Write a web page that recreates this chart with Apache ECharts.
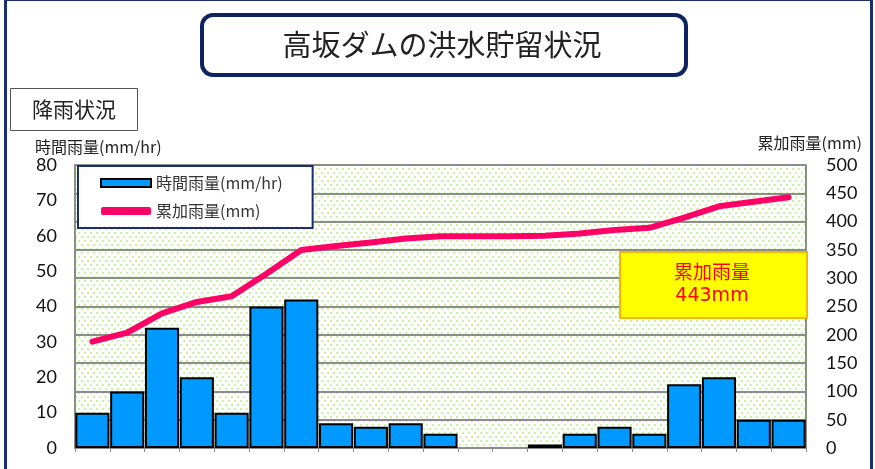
<!DOCTYPE html>
<html>
<head>
<meta charset="utf-8">
<script src="https://cdn.jsdelivr.net/npm/echarts@6/dist/echarts.min.js"></script>
<style>
html,body{margin:0;padding:0;background:#fff;}
#chart{width:875px;height:469px;}
</style>
</head>
<body>
<div id="chart"></div>
<script>
var categories = ['1','2','3','4','5','6','7','8','9','10','11','12','13','14','15','16','17','18','19','20','21'];
var hourlyRain = [10, 16, 34, 20, 10, 40, 42, 7, 6, 7, 4, 0, 0, 1, 4, 6, 4, 18, 20, 8, 8];
var cumulativeRain = [188, 204, 238, 258, 268, 308, 350, 357, 363, 370, 374, 374, 374, 375, 379, 385, 389, 407, 427, 435, 443];
var leftTicks = {min: 0, max: 80, interval: 10};
var rightTicks = {min: 0, max: 500, interval: 50};
var titleText = '高坂ダムの洪水貯留状況';
var sectionText = '降雨状況';
var seriesNames = ['時間雨量(mm/hr)', '累加雨量(mm)'];
var axisNames = ['時間雨量(mm/hr)', '累加雨量(mm)'];

var JP = '"Noto Sans CJK JP", "Noto Sans", sans-serif';
var NUM = 'Lato, "Noto Sans", sans-serif';

// dotted background pattern
var pc = document.createElement('canvas');
pc.width = 6; pc.height = 8;
var pctx = pc.getContext('2d');
pctx.fillStyle = '#ffffff';
pctx.fillRect(0, 0, 6, 8);
pctx.fillStyle = '#c9f59c';
pctx.fillRect(0, 0, 2, 2);
pctx.fillRect(3, 4, 2, 2);

var chart = echarts.init(document.getElementById('chart'), null, {renderer: 'canvas'});
var lastVal = cumulativeRain[cumulativeRain.length - 1];

var barData = hourlyRain.map(function (v) {
  return v === 0 ? {value: v, itemStyle: {borderWidth: 0}} : v;
});

var option = {
  backgroundColor: '#ffffff',
  animation: false,
  grid: {
    left: 75, right: 69, top: 165, bottom: 21,
    show: true,
    backgroundColor: {image: pc, repeat: 'repeat'},
    borderWidth: 0
  },
  legend: {
    orient: 'vertical',
    left: 78, top: 166,
    padding: [9, 30, 9, 22],
    itemGap: 12,
    itemWidth: 50, itemHeight: 8,
    backgroundColor: '#ffffff',
    borderColor: '#1a2f6b',
    borderWidth: 2,
    borderRadius: 0,
    textStyle: {fontFamily: JP, fontSize: 16, color: '#333'},
    data: [
      {name: seriesNames[0], icon: 'rect'},
      {name: seriesNames[1], icon: 'roundRect'}
    ]
  },
  xAxis: {
    type: 'category',
    data: categories,
    boundaryGap: true,
    axisLine: {show: true, lineStyle: {color: '#8c8c8c', width: 2}},
    axisTick: {show: true, length: 4, lineStyle: {color: '#8c8c8c'}},
    axisLabel: {show: false},
    splitLine: {show: false}
  },
  yAxis: [
    {
      type: 'value',
      min: leftTicks.min, max: leftTicks.max, interval: leftTicks.interval,
      axisLine: {show: true, lineStyle: {color: '#8c8c8c', width: 2}},
      axisTick: {show: false},
      splitLine: {show: false},
      axisLabel: {margin: 18, fontFamily: NUM, fontSize: 18, color: '#111'}
    },
    {
      type: 'value',
      min: rightTicks.min, max: rightTicks.max, interval: rightTicks.interval,
      position: 'right',
      axisLine: {show: true, lineStyle: {color: '#8c8c8c', width: 2}},
      axisTick: {show: false},
      splitLine: {show: true, lineStyle: {color: '#8c8c8c', width: 2}},
      axisLabel: {margin: 20, fontFamily: NUM, fontSize: 18, color: '#111'}
    }
  ],
  series: [
    {
      name: seriesNames[0],
      type: 'bar',
      yAxisIndex: 0,
      data: barData,
      barCategoryGap: '2%',
      itemStyle: {color: '#0099ff', borderColor: '#000', borderWidth: 2}
    },
    {
      name: seriesNames[1],
      type: 'line',
      yAxisIndex: 1,
      data: cumulativeRain,
      symbol: 'none',
      lineStyle: {color: '#ff0066', width: 6, cap: 'round', join: 'round'},
      itemStyle: {color: '#ff0066'},
      z: 5
    }
  ],
  graphic: [
    {type: 'rect', left: 3, top: -3, shape: {width: 866, height: 485}, style: {fill: 'none', stroke: '#1a2f6b', lineWidth: 3}, silent: true},
    {type: 'rect', left: 200, top: 13, shape: {width: 484, height: 60, r: 11}, style: {fill: '#fff', stroke: '#0d2260', lineWidth: 4}},
    {type: 'text', x: 442, y: 45, style: {text: titleText, font: '29px ' + JP, fill: '#222', align: 'center', verticalAlign: 'middle'}},
    {type: 'rect', left: 10, top: 88, shape: {width: 127, height: 42}, style: {fill: '#fff', stroke: '#555', lineWidth: 1}},
    {type: 'text', x: 74, y: 109, style: {text: sectionText, font: '21px ' + JP, fill: '#222', align: 'center', verticalAlign: 'middle'}},
    {type: 'text', x: 35, y: 147, style: {text: axisNames[0], font: '16px ' + JP, fill: '#222', verticalAlign: 'middle'}},
    {type: 'text', x: 862, y: 143, style: {text: axisNames[1], font: '16px ' + JP, fill: '#222', align: 'right', verticalAlign: 'middle'}},
    {type: 'rect', left: 619, top: 251, shape: {width: 187, height: 66}, style: {fill: '#ffff00', stroke: '#f5b800', lineWidth: 2}, z: 10},
    {type: 'text', x: 712, y: 285, z: 11, style: {text: '累加雨量\n' + lastVal + 'mm', font: '19px "DejaVu Sans", "Noto Sans CJK JP", sans-serif', fill: '#ff0000', align: 'center', verticalAlign: 'middle', lineHeight: 22}}
  ]
};
chart.setOption(option);
</script>
</body>
</html>
